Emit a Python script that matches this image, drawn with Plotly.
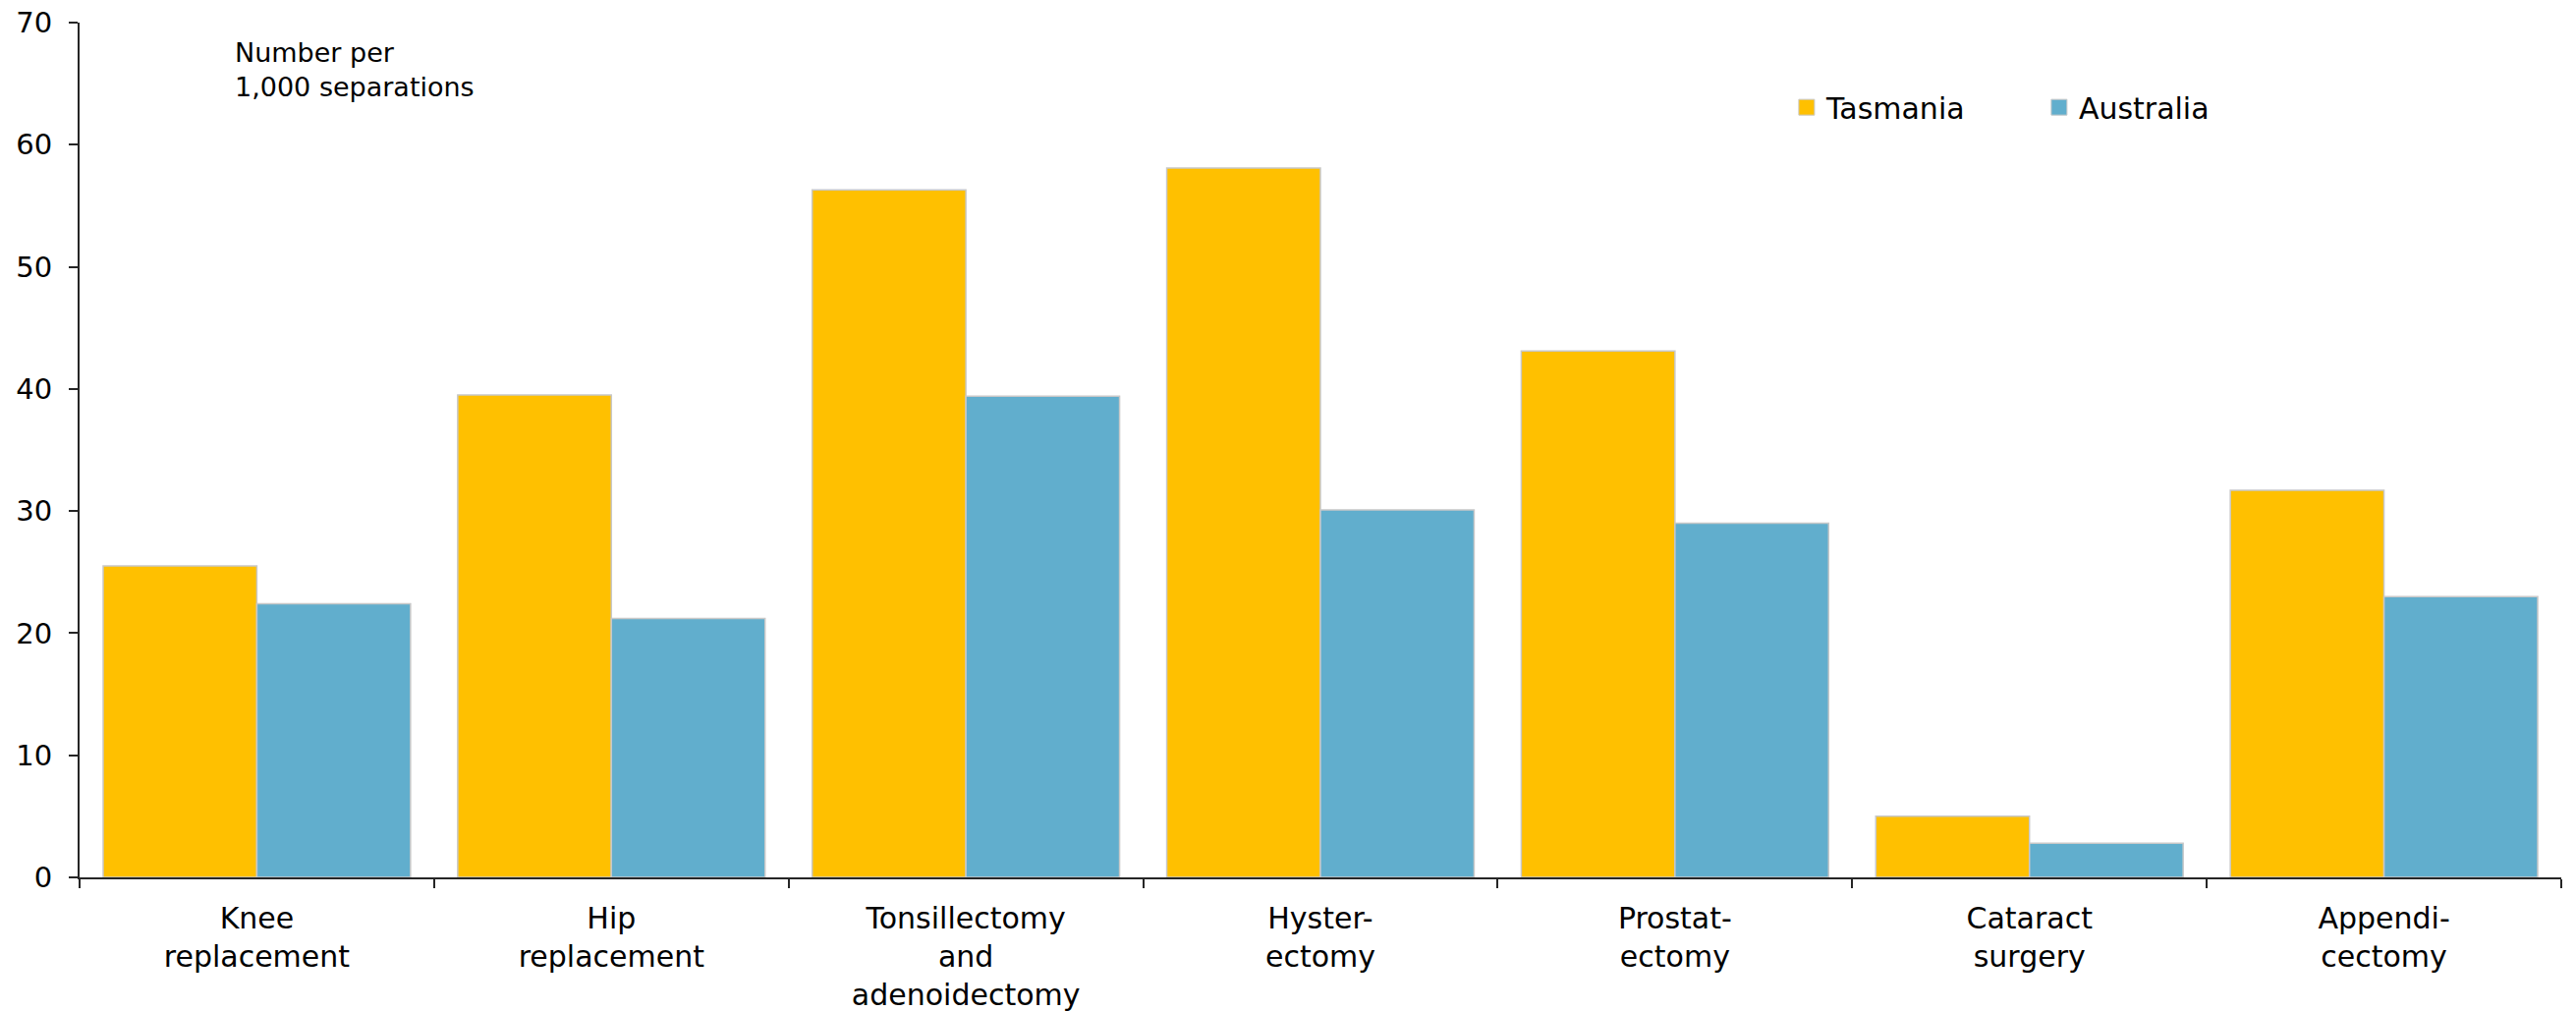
import plotly.graph_objects as go

categories = ["Knee<br>replacement", "Hip<br>replacement", "Tonsillectomy<br>and<br>adenoidectomy",
              "Hyster-<br>ectomy", "Prostat-<br>ectomy", "Cataract<br>surgery", "Appendi-<br>cectomy"]
tasmania = [25.5, 39.5, 56.3, 58.1, 43.1, 5.0, 31.7]
australia = [22.4, 21.2, 39.4, 30.1, 29.0, 2.8, 23.0]
y_ticks = [0, 10, 20, 30, 40, 50, 60, 70]

YELLOW = "#FFC000"
BLUE = "#61AECD"
EDGE = "#C8C8C8"
FONT = "DejaVu Sans"

fig = go.Figure()
fig.add_trace(go.Bar(x=categories, y=tasmania, name="Tasmania", marker_color=YELLOW,
                     marker_line=dict(color=EDGE, width=1.5), showlegend=False))
fig.add_trace(go.Bar(x=categories, y=australia, name="Australia", marker_color=BLUE,
                     marker_line=dict(color=EDGE, width=1.5), showlegend=False))
# legend entries with larger square swatches
for name, col in [("Tasmania", YELLOW), ("Australia", BLUE)]:
    fig.add_trace(go.Scatter(x=[None], y=[None], mode="markers", name=name,
                             marker=dict(symbol="square", size=18, color=col,
                                         line=dict(color=EDGE, width=1))))

fig.update_layout(
    width=2622, height=1029, autosize=False,
    margin=dict(l=81, r=15, t=23, b=136, pad=0),
    plot_bgcolor="white", paper_bgcolor="white",
    barmode="group", bargap=0.133, bargroupgap=0,
    font=dict(family=FONT, color="#000000"),
    legend=dict(orientation="h", x=0.688, y=0.901, xanchor="left", yanchor="middle",
                font=dict(size=30, family=FONT), entrywidth=212, bgcolor="rgba(0,0,0,0)"),
    xaxis=dict(type="category", showline=True, linecolor="#262626", linewidth=2,
               ticks="outside", tickson="boundaries", ticklen=9, tickwidth=1.5, tickcolor="#262626",
               tickfont=dict(size=30, family=FONT), ticklabelstandoff=14, automargin=False,
               showgrid=False, zeroline=False, range=[-0.5, len(categories) - 0.5]),
    yaxis=dict(range=[0, 70], tickvals=y_ticks, showline=True, linecolor="#262626", linewidth=2,
               ticks="outside", ticklen=9, tickwidth=1.5, tickcolor="#262626",
               tickfont=dict(size=29, family=FONT), ticklabelstandoff=11, automargin=False,
               showgrid=False, zeroline=False),
    annotations=[dict(text="Number per<br>1,000 separations", xref="paper", yref="paper",
                      x=0.0618, y=0.985, xanchor="left", yanchor="top", align="left",
                      showarrow=False, font=dict(size=27, family=FONT))],
)

fig.write_html("out.html", config={"displayModeBar": False},
               post_script="document.body.style.margin='0';")
